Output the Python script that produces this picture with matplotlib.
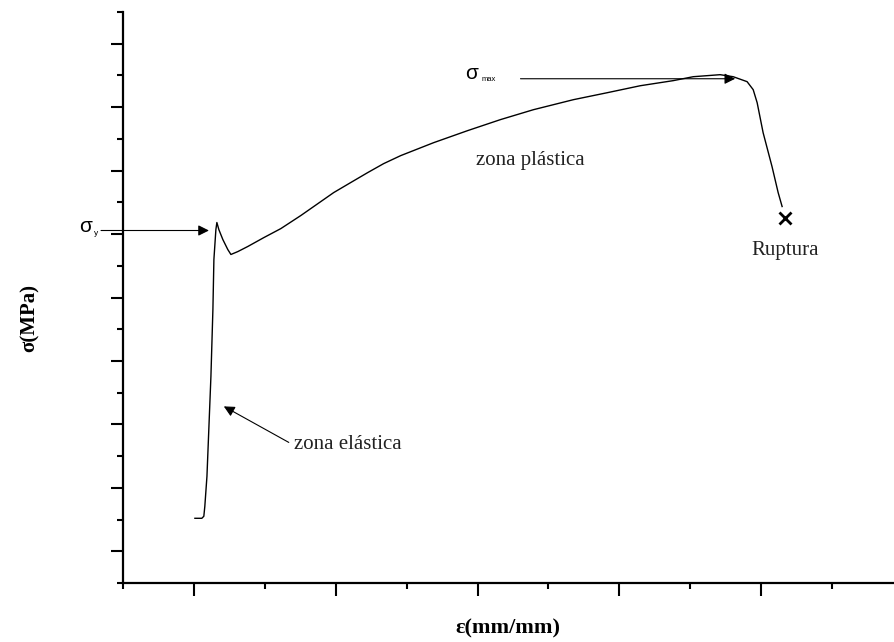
import numpy as np
import matplotlib
matplotlib.use("Agg")
import matplotlib.pyplot as plt

# stress-strain curve (strain in mm/mm, stress in MPa)
strain = [0.0007, 0.0056, 0.0070, 0.0077, 0.0092, 0.0106, 0.0120, 0.0134, 0.0141,
          0.0155, 0.0162, 0.0176, 0.0204, 0.0239, 0.0261, 0.0310, 0.0380, 0.0493,
          0.0613, 0.0754, 0.0986, 0.1106, 0.1225, 0.1338, 0.1458, 0.1690, 0.1930,
          0.2162, 0.2394, 0.2676, 0.2915, 0.3148, 0.3380, 0.3521, 0.3711, 0.3803,
          0.3901, 0.3944, 0.3972, 0.4014, 0.4077, 0.4120, 0.4148]
stress = [26.0, 26.0, 27.6, 35.4, 59.1, 98.4, 137.8, 190.6, 229.9,
          253.5, 259.1, 253.5, 245.7, 237.8, 233.9, 236.2, 240.2, 247.2,
          254.3, 264.6, 282.7, 290.6, 298.4, 305.5, 311.8, 322.0, 331.5,
          340.2, 348.0, 355.9, 361.4, 366.9, 370.9, 374.0, 375.6, 374.0,
          370.1, 363.8, 353.5, 329.9, 303.1, 282.7, 271.7]

rupture = (0.4169, 263.0)
sigma_y = 252.8
sigma_max = 372.4

serif = "Liberation Serif"
sans = "Liberation Sans"

fig = plt.figure(figsize=(8.94, 6.42), dpi=100)
ax = fig.add_axes([123 / 894, 59 / 642, 771 / 894, 571 / 642])

ax.plot(strain, stress, color="black", lw=1.0)
ax.plot(*rupture, marker="x", color="black", ms=8, mew=2.0, ls="none")

ax.set_xlim(-0.05, 0.4937)
ax.set_ylim(-25, 425)

for s in ["top", "right"]:
    ax.spines[s].set_visible(False)
for s in ["left", "bottom"]:
    ax.spines[s].set_linewidth(1.6)

ax.set_xticks(np.arange(0, 0.45, 0.1))
ax.set_xticks(np.arange(-0.05, 0.5, 0.1), minor=True)
ax.set_yticks(np.arange(0, 425, 50))
ax.set_yticks(np.arange(-25, 430, 50), minor=True)
ax.tick_params(which="major", length=9, width=1.5, direction="out",
               labelbottom=False, labelleft=False)
ax.tick_params(which="minor", length=4.5, width=1.5, direction="out")

arrow = dict(arrowstyle="-|>", color="black", lw=0.8, mutation_scale=16,
             shrinkA=0, shrinkB=0)

# yield stress
ax.annotate("", xy=(0.0106, sigma_y), xytext=(-0.0655, sigma_y),
            arrowprops=arrow, annotation_clip=False)
ax.text(-0.081, 255.9, "σ", fontsize=15, family=sans, ha="left", va="center",
        clip_on=False)
ax.text(-0.0705, 250.5, "y", fontsize=6, family=sans, ha="left", va="center",
        clip_on=False)

# ultimate stress
ax.annotate("", xy=(0.3817, sigma_max), xytext=(0.2303, sigma_max),
            arrowprops=arrow)
ax.text(0.1915, 376.5, "σ", fontsize=15, family=sans, ha="left", va="center")
ax.text(0.2025, 372.0, "max", fontsize=5.5, family=sans, ha="left", va="center")

# elastic zone
ax.annotate("", xy=(0.0211, 114.2), xytext=(0.0669, 85.8), arrowprops=arrow)
ax.text(0.0704, 84.5, "zona elástica", fontsize=15, family=serif,
        ha="left", va="center", color="#222222")

ax.text(0.1986, 308, "zona plástica", fontsize=15, family=serif,
        ha="left", va="center", color="#222222")
ax.text(rupture[0], 237, "Ruptura", fontsize=15, family=serif,
        ha="center", va="center", color="#222222")

# axis labels
fig.text(508 / 894, 1 - 628 / 642, "ε(mm/mm)", fontsize=16, family=serif,
         fontweight="bold", ha="center", va="center")
fig.text(30 / 894, 1 - 318 / 642, "σ(MPa)", fontsize=15, family=serif,
         fontweight="bold", ha="center", va="center", rotation=90)

fig.savefig("out.png", dpi=100)
